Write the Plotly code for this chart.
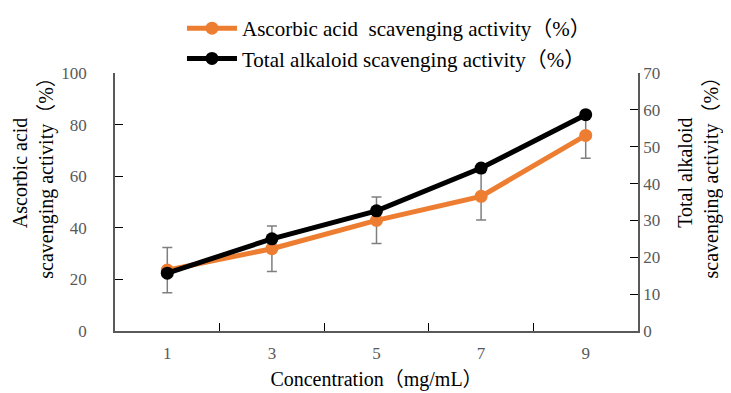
import plotly.graph_objects as go

concentration = ["1", "3", "5", "7", "9"]
ascorbic = [23.6, 31.9, 42.9, 52.2, 75.8]
ascorbic_err = [8.8, 8.8, 9.0, 9.2, 8.8]
alkaloid = [15.7, 25.0, 32.6, 44.2, 58.7]

FONT = "Liberation Serif, Times New Roman, Noto Sans CJK SC, serif"
ORANGE = "#ED7D31"

fig = go.Figure()
fig.add_trace(go.Scatter(
    x=concentration, y=ascorbic, mode="lines+markers",
    name="Ascorbic acid  scavenging activity（%）",
    legendgroup="a",
    line=dict(color=ORANGE, width=5),
    marker=dict(color=ORANGE, size=13),
    error_y=dict(type="data", array=ascorbic_err, visible=True,
                 color="#7F7F7F", thickness=1.5, width=5),
    yaxis="y",
))
fig.add_trace(go.Scatter(
    x=concentration, y=alkaloid, mode="lines+markers",
    name="Total alkaloid scavenging activity（%）",
    legendgroup="b",
    line=dict(color="black", width=5),
    marker=dict(color="black", size=13),
    yaxis="y2",
))

axis_common = dict(showline=True, linecolor="#595959", linewidth=1.5,
                   ticks="inside", ticklen=8, tickcolor="#000000",
                   showgrid=False, zeroline=False,
                   tickfont=dict(family=FONT, size=17, color="#595959"))

fig.update_layout(
    width=731, height=393,
    margin=dict(l=107, r=101, t=65, b=70, autoexpand=False),
    paper_bgcolor="white", plot_bgcolor="white",
    font=dict(family=FONT, color="black"),
    showlegend=True,
    legend=dict(x=0.238, y=1.058, xref="container", yref="container",
                xanchor="left", yanchor="top", orientation="v",
                font=dict(family=FONT, size=21, color="black"),
                tracegroupgap=0, itemwidth=50, bgcolor="rgba(0,0,0,0)"),
    xaxis=dict(type="category", range=[-0.5, 4.5], tickson="boundaries",
               ticklabelstandoff=6,
               title=dict(text="Concentration（mg/mL）", font=dict(family=FONT, size=20), standoff=10),
               **axis_common),
    yaxis=dict(range=[0, 100], tickvals=[0, 20, 40, 60, 80, 100],
               ticklabelstandoff=23,
               **axis_common),
    yaxis2=dict(range=[0, 70], tickvals=[0, 10, 20, 30, 40, 50, 60, 70],
                overlaying="y", side="right", ticklabelstandoff=0,
                **axis_common),
    annotations=[
        dict(text="Ascorbic acid<br>scavenging activity（%）", xref="paper", yref="paper",
             x=-0.156, y=0.615, xanchor="center", yanchor="middle", textangle=-90,
             showarrow=False, font=dict(family=FONT, size=20, color="black")),
        dict(text="Total alkaloid<br>scavenging activity（%）", xref="paper", yref="paper",
             x=1.115, y=0.615, xanchor="center", yanchor="middle", textangle=-90,
             showarrow=False, font=dict(family=FONT, size=20, color="black")),
    ],
)

fig.write_html("out.html")
